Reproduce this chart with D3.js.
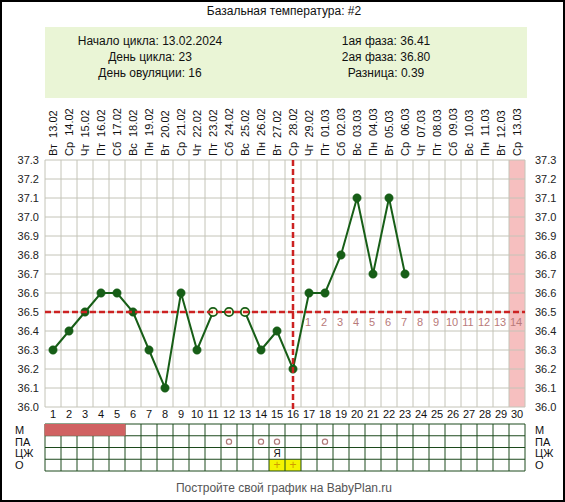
<!DOCTYPE html>
<html><head><meta charset="utf-8">
<script src="https://cdn.jsdelivr.net/npm/d3@7"></script>
<style>body{margin:0;background:#fff}svg{display:block;font-family:"Liberation Sans",Arial,sans-serif}.dl{white-space:pre}</style>
</head><body>
<svg id="c" width="565" height="502"></svg>
<script>
const days = [1,2,3,4,5,6,7,8,9,10,11,12,13,14,15,16,17,18,19,20,21,22,23,24,25,26,27,28,29,30];
const dateLabels = ["Вт 13.02","Ср 14.02","Чт 15.02","Пт 16.02","Сб 17.02","Вс 18.02","Пн 19.02","Вт 20.02","Ср 21.02","Чт 22.02","Пт 23.02","Сб 24.02","Вс 25.02","Пн 26.02","Вт 27.02","Ср 28.02","Чт 29.02","Пт 01.03","Сб 02.03","Вс 03.03","Пн 04.03","Вт 05.03","Ср 06.03","Чт 07.03","Пт 08.03","Сб 09.03","Вс 10.03","Пн 11.03","Вт 12.03","Ср 13.03"];
const temps = [36.3,36.4,36.5,36.6,36.6,36.5,36.3,36.1,36.6,36.3,36.5,36.5,36.5,36.3,36.4,36.2,36.6,36.6,36.8,37.1,36.7,37.1,36.7];
const hollowDays = [11,12,13];
const yTicks = [36.0,36.1,36.2,36.3,36.4,36.5,36.6,36.7,36.8,36.9,37.0,37.1,37.2,37.3];
const coverline = 36.5;
const ovulationDay = 16;
const phaseDays = [17,18,19,20,21,22,23,24,25,26,27,28,29,30];
const phaseNums = [1,2,3,4,5,6,7,8,9,10,11,12,13,14];
const expectedDay = 30;
const rowLabels = ["М","ПА","ЦЖ","О"];
const mensDays = [1,2,3,4,5];
const paDays = [12,14,15,18];
const czDays = [15];
const czMarks = ["Я"];
const ovTestDays = [15,16];
const infoLeft = ["Начало цикла: 13.02.2024","День цикла: 23","День овуляции: 16"];
const infoRight = ["1ая фаза: 36.41","2ая фаза: 36.80","Разница: 0.39"];

const svg = d3.select("#c");
const W = 565, H = 502;
const x = d3.scaleBand().domain(days).range([45,525]).padding(0);
const y = d3.scaleLinear().domain([36.0,37.3]).range([407,160]);
const cx = d => x(d) + x.bandwidth()/2;

svg.append("rect").attr("x",1).attr("y",1).attr("width",W-2).attr("height",H-2).attr("fill","#fff").attr("stroke","#000").attr("stroke-width",2);

svg.append("text").attr("x",284).attr("y",15).attr("text-anchor","middle").attr("font-size",12).attr("fill","#111").text("Базальная температура: #2");
svg.append("rect").attr("x",45).attr("y",27).attr("width",482).attr("height",71).attr("fill","#eaf5d6");
infoLeft.forEach((t,i)=>svg.append("text").attr("x",150).attr("y",45+i*16).attr("text-anchor","middle").attr("font-size",12).attr("fill","#111").text(t));
infoRight.forEach((t,i)=>svg.append("text").attr("x",386).attr("y",45+i*16).attr("text-anchor","middle").attr("font-size",12).attr("fill","#111").text(t));

// date labels
svg.append("g").selectAll("text").data(days).join("text").attr("class","dl")
  .attr("transform",(d)=>`translate(${cx(d)+4},156) rotate(-90)`)
  .attr("font-size",11).attr("fill","#111").text((d,i)=>dateLabels[i].replace(" ","  "));

// expected period column
svg.append("rect").attr("x",x(expectedDay)).attr("y",y(37.3)).attr("width",x.bandwidth()).attr("height",y(36.0)-y(37.3)).attr("fill","#f6bfbf");

// grid
const g = svg.append("g");
g.selectAll("line.h").data(yTicks).join("line").attr("class","h")
  .attr("x1",45).attr("x2",525).attr("y1",d=>y(d)).attr("y2",d=>y(d)).attr("stroke","#c4c4b8").attr("stroke-width",1);
g.selectAll("line.v").data(days.concat([31])).join("line").attr("class","v")
  .attr("x1",d=>d<=30?x(d):525).attr("x2",d=>d<=30?x(d):525).attr("y1",y(37.3)).attr("y2",y(36.0)).attr("stroke","#c4c4b8").attr("stroke-width",1);

// y axis labels
const yl = d3.axisLeft(y).tickValues(yTicks).tickFormat(d3.format(".1f")).tickSize(0).tickPadding(0);
const ya = svg.append("g").attr("transform","translate(39,0)").call(yl);
ya.select(".domain").remove();
ya.selectAll("text").attr("font-size",11).attr("fill","#222").attr("font-family","Liberation Sans, Arial, sans-serif");
const yr = d3.axisRight(y).tickValues(yTicks).tickFormat(d3.format(".1f")).tickSize(0).tickPadding(0);
const yb = svg.append("g").attr("transform","translate(535,0)").call(yr);
yb.select(".domain").remove();
yb.selectAll("text").attr("font-size",11).attr("fill","#222").attr("font-family","Liberation Sans, Arial, sans-serif");

// day numbers
const xa = svg.append("g").attr("transform","translate(0,410)").call(d3.axisBottom(x).tickSize(0).tickPadding(0));
xa.select(".domain").remove();
xa.selectAll("text").attr("font-size",11).attr("fill","#111").attr("dy","0.71em").attr("font-family","Liberation Sans, Arial, sans-serif");

// phase numbers
svg.append("g").selectAll("text").data(phaseDays).join("text")
  .attr("x",d=>cx(d)-1).attr("y",y(coverline)+14).attr("text-anchor","middle").attr("font-size",11).attr("fill","#b87a7a")
  .text((d,i)=>phaseNums[i]);

// temperature line
const pts = temps.map((t,i)=>({d:days[i],t}));
svg.append("path").datum(pts).attr("fill","none").attr("stroke","#175e17").attr("stroke-width",2)
  .attr("d",d3.line().x(p=>cx(p.d)).y(p=>y(p.t)));
svg.append("g").selectAll("circle").data(pts).join("circle")
  .attr("cx",p=>cx(p.d)).attr("cy",p=>y(p.t)).attr("r",4.2)
  .attr("fill",p=>hollowDays.includes(p.d)?"#fffbe0":"#175e17")
  .attr("stroke","#175e17").attr("stroke-width",p=>hollowDays.includes(p.d)?1.8:0.5);

// coverline and ovulation line
svg.append("line").attr("x1",45).attr("x2",525).attr("y1",y(coverline)).attr("y2",y(coverline))
  .attr("stroke","#cc2222").attr("stroke-width",2.5).attr("stroke-dasharray","6,3");
svg.append("line").attr("x1",cx(ovulationDay)).attr("x2",cx(ovulationDay)).attr("y1",y(37.3)).attr("y2",409)
  .attr("stroke","#cc2222").attr("stroke-width",2.5).attr("stroke-dasharray","6,3");

// bottom table
const rowY = d3.scaleBand().domain(rowLabels).range([424,471]);
const t = svg.append("g");
t.selectAll("rect.o").data(ovTestDays).join("rect").attr("class","o")
  .attr("x",d=>x(d)).attr("y",rowY("О")).attr("width",x.bandwidth()).attr("height",rowY.bandwidth()).attr("fill","#f4f400");
t.selectAll("line.th").data([0,1,2,3,4]).join("line").attr("class","th")
  .attr("x1",45).attr("x2",525).attr("y1",i=>424+i*rowY.bandwidth()).attr("y2",i=>424+i*rowY.bandwidth())
  .attr("stroke","#1c4a1c").attr("stroke-width",1);
t.selectAll("line.tv").data(days.concat([31])).join("line").attr("class","tv")
  .attr("x1",d=>d<=30?x(d):525).attr("x2",d=>d<=30?x(d):525).attr("y1",424).attr("y2",471)
  .attr("stroke","#1c4a1c").attr("stroke-width",1);
// menstruation cells drawn over grid
t.selectAll("rect.m").data(mensDays).join("rect").attr("class","m")
  .attr("x",d=>x(d)-0.5).attr("y",rowY("М")).attr("width",x.bandwidth()+1).attr("height",rowY.bandwidth()).attr("fill","#d06262");
t.selectAll("circle.pa").data(paDays).join("circle").attr("class","pa")
  .attr("cx",d=>cx(d)).attr("cy",rowY("ПА")+rowY.bandwidth()/2).attr("r",2.6)
  .attr("fill","none").attr("stroke","#b07a7a").attr("stroke-width",1.2);
t.selectAll("text.cz").data(czDays).join("text").attr("class","cz")
  .attr("x",d=>cx(d)).attr("y",rowY("ЦЖ")+rowY.bandwidth()/2+3.5).attr("text-anchor","middle").attr("font-size",10).attr("fill","#111")
  .text((d,i)=>czMarks[i]);
t.selectAll("text.ot").data(ovTestDays).join("text").attr("class","ot")
  .attr("x",d=>cx(d)).attr("y",rowY("О")+rowY.bandwidth()/2+4).attr("text-anchor","middle").attr("font-size",12).attr("fill","#d09a00")
  .text("+");
rowLabels.forEach(r=>{
  svg.append("text").attr("x",15).attr("y",rowY(r)+rowY.bandwidth()/2+4).attr("font-size",11).attr("fill","#111").text(r);
  svg.append("text").attr("x",535).attr("y",rowY(r)+rowY.bandwidth()/2+4).attr("font-size",11).attr("fill","#111").text(r);
});

svg.append("text").attr("x",284).attr("y",492).attr("text-anchor","middle").attr("font-size",12).attr("fill","#555").text("Постройте свой график на BabyPlan.ru");
</script>
</body></html>
